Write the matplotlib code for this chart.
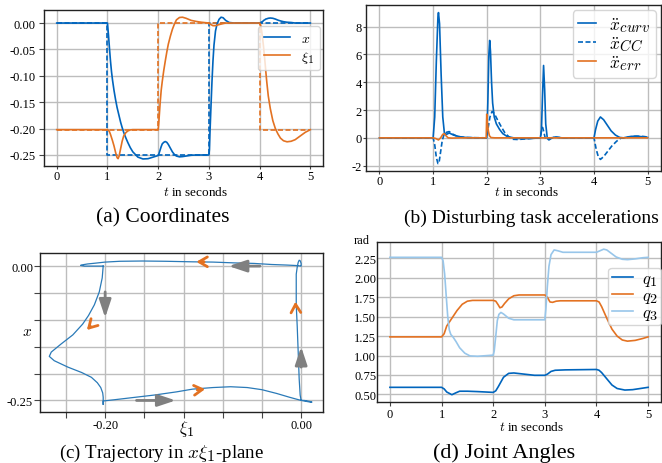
import matplotlib.pyplot as plt
import matplotlib._mathtext as mathtext_internals
from matplotlib.ticker import FixedLocator

# the paper's subscripts are nearly full size
mathtext_internals.SHRINK_FACTOR = 0.85

plt.rcParams['font.family'] = ['Liberation Serif', 'DejaVu Serif']
plt.rcParams['mathtext.fontset'] = 'cm'
plt.rcParams['axes.unicode_minus'] = False
plt.rcParams['font.size'] = 9

blue = '#0065bd'
orange = '#e37222'
lightblue = '#98c6ea'
gray = '#808080'

# (a) and (c): coordinates over time
t = [0.00, 1.00, 1.02, 1.04, 1.06, 1.08, 1.10, 1.13, 1.16, 1.19, 1.21, 1.23, 1.26, 1.29,
     1.32, 1.36, 1.40, 1.45, 1.50, 1.60, 1.70, 1.80, 1.90, 2.00, 2.01, 2.02, 2.04, 2.06,
     2.08, 2.11, 2.14, 2.17, 2.20, 2.24, 2.28, 2.32, 2.36, 2.42, 2.48, 2.55, 2.65, 2.75,
     2.85, 3.00, 3.01, 3.02, 3.04, 3.06, 3.08, 3.10, 3.13, 3.16, 3.20, 3.24, 3.28, 3.33,
     3.40, 3.50, 4.00, 4.02, 4.04, 4.06, 4.08, 4.10, 4.12, 4.14, 4.17, 4.21, 4.26, 4.31,
     4.36, 4.41, 4.47, 4.54, 4.62, 4.70, 4.80, 4.90, 5.00]
x = [0.000, 0.000, -0.022, -0.048, -0.072, -0.092, -0.108, -0.128, -0.145, -0.160, -0.168,
     -0.176, -0.188, -0.198, -0.207, -0.217, -0.226, -0.236, -0.244, -0.254, -0.2575,
     -0.257, -0.254, -0.251, -0.249, -0.246, -0.240, -0.234, -0.229, -0.226, -0.2245,
     -0.226, -0.230, -0.237, -0.244, -0.249, -0.252, -0.2535, -0.253, -0.252, -0.2505,
     -0.250, -0.250, -0.250, -0.240, -0.210, -0.160, -0.112, -0.072, -0.042, -0.015,
     -0.002, 0.007, 0.011, 0.010, 0.005, 0.001, 0.000, 0.000, 0.001, 0.002, 0.003, 0.005,
     0.006, 0.0075, 0.008, 0.009, 0.0095, 0.009, 0.0075, 0.0055, 0.004, 0.0025, 0.0015,
     0.001, 0.000, 0.000, 0.000, 0.000]
xi1 = [-0.202, -0.202, -0.203, -0.206, -0.211, -0.217, -0.223, -0.233, -0.245, -0.255,
       -0.257, -0.252, -0.238, -0.224, -0.214, -0.208, -0.2045, -0.2025, -0.202, -0.202,
       -0.202, -0.202, -0.202, -0.202, -0.192, -0.178, -0.150, -0.127, -0.111, -0.090,
       -0.072, -0.055, -0.040, -0.025, -0.012, -0.002, 0.006, 0.0105, 0.011, 0.009, 0.005,
       0.003, 0.0015, 0.000, -0.001, -0.002, -0.003, -0.004, -0.005, -0.005, -0.005,
       -0.004, -0.003, -0.002, -0.001, 0.000, 0.000, 0.000, 0.000, -0.004, -0.015, -0.030,
       -0.048, -0.068, -0.090, -0.111, -0.138, -0.162, -0.185, -0.200, -0.210, -0.218,
       -0.223, -0.225, -0.224, -0.221, -0.214, -0.207, -0.202]

t_ref = [0, 1, 2, 3, 4, 5]
x_ref = [0.0, -0.25, -0.25, 0.0, 0.0, 0.0]
xi1_ref = [-0.202, -0.202, 0.0, 0.0, -0.202, -0.202]

# (b) disturbing task accelerations
t_curv = [0, 1.00, 1.03, 1.06, 1.09, 1.10, 1.12, 1.15, 1.18, 1.21, 1.25, 1.30, 1.38, 1.50,
          1.60, 1.80, 2.00, 2.02, 2.04, 2.055, 2.07, 2.09, 2.11, 2.14, 2.18, 2.24, 2.30,
          2.38, 2.50, 2.60, 2.80, 3.00, 3.02, 3.04, 3.06, 3.08, 3.10, 3.13, 3.16, 3.20,
          3.25, 3.30, 3.40, 4.00, 4.03, 4.07, 4.12, 4.18, 4.25, 4.32, 4.40, 4.48, 4.55,
          4.65, 4.75, 4.85, 4.95, 5.00]
acc_curv = [0, 0, 1.5, 5.5, 8.7, 9.0, 8.2, 4.5, 1.5, 0.35, 0.25, 0.35, 0.2, 0.08, 0.03, 0.0,
            0.0, 2.5, 6.0, 7.0, 6.2, 4.0, 2.5, 1.5, 1.0, 0.6, 0.3, 0.1, 0.0, -0.05, -0.05,
            0.0, 0.5, 3.0, 5.2, 3.5, 1.0, -0.05, -0.15, -0.05, 0.05, 0.05, 0.0, 0.0, 0.6,
            1.2, 1.5, 1.3, 0.9, 0.5, 0.2, 0.03, 0.0, 0.08, 0.12, 0.1, 0.05, 0.03]
t_cc = [0, 1.00, 1.03, 1.06, 1.09, 1.11, 1.14, 1.17, 1.20, 1.25, 1.30, 1.35, 1.45, 1.60,
        2.00, 2.03, 2.06, 2.10, 2.14, 2.20, 2.27, 2.34, 2.42, 2.48, 2.58, 2.70, 2.85, 3.00,
        3.02, 3.04, 3.06, 3.09, 3.12, 3.15, 3.20, 3.30, 3.40, 4.00, 4.04, 4.08, 4.12, 4.18,
        4.25, 4.33, 4.42, 4.50, 4.58, 4.68, 4.80, 4.92, 5.00]
acc_cc = [0, 0, -0.5, -1.4, -1.85, -1.8, -1.0, -0.2, 0.2, 0.4, 0.45, 0.3, 0.1, 0.02, 0, 0.8,
          1.5, 1.9, 1.75, 1.3, 0.8, 0.35, 0.05, -0.1, -0.12, -0.08, -0.03, 0, 0.5, 0.75,
          0.5, 0.0, -0.1, -0.1, 0.0, 0.05, 0.0, 0, -0.8, -1.35, -1.55, -1.35, -1.0, -0.6,
          -0.25, -0.02, 0.0, 0.08, 0.12, 0.1, 0.06]
t_err = [0, 1.00, 1.05, 1.10, 1.14, 1.18, 1.21, 1.24, 1.28, 1.35, 1.50, 1.99, 2.00, 2.01,
         2.03, 2.05, 2.08, 2.15, 5.00]
acc_err = [0, 0, -0.05, -0.15, 0.0, 0.25, 0.3, 0.15, 0.0, -0.02, 0, 0, 1.7, 1.2, 0.5, 0.15,
           0.02, 0, 0]

# (d) joint angles
t_q1 = [0, 1.0, 1.05, 1.1, 1.2, 1.28, 1.35, 1.5, 1.7, 2.0, 2.05, 2.1, 2.2, 2.3, 2.4, 2.6,
        2.8, 3.0, 3.05, 3.12, 3.2, 3.4, 4.0, 4.05, 4.1, 4.2, 4.3, 4.4, 4.55, 4.7, 4.85, 5.0]
q1 = [0.59, 0.59, 0.57, 0.53, 0.495, 0.52, 0.54, 0.54, 0.535, 0.525, 0.545, 0.6, 0.72,
      0.77, 0.775, 0.76, 0.745, 0.745, 0.76, 0.795, 0.81, 0.815, 0.82, 0.81, 0.78, 0.7,
      0.62, 0.575, 0.555, 0.56, 0.575, 0.59]
t_q2 = [0, 1.0, 1.05, 1.1, 1.2, 1.3, 1.4, 1.5, 1.6, 2.0, 2.05, 2.1, 2.13, 2.17, 2.22, 2.3,
        2.4, 2.5, 3.0, 3.05, 3.1, 3.15, 3.22, 3.3, 4.0, 4.05, 4.1, 4.2, 4.3, 4.4, 4.5, 4.6,
        4.75, 4.9, 5.0]
q2 = [1.24, 1.24, 1.28, 1.38, 1.48, 1.58, 1.66, 1.70, 1.71, 1.71, 1.70, 1.65, 1.615,
      1.625, 1.67, 1.73, 1.77, 1.78, 1.78, 1.75, 1.69, 1.685, 1.70, 1.705, 1.705, 1.69,
      1.63, 1.48, 1.34, 1.25, 1.20, 1.185, 1.195, 1.22, 1.24]
t_q3 = [0, 1.0, 1.03, 1.06, 1.09, 1.12, 1.15, 1.18, 1.22, 1.28, 1.35, 1.45, 1.55, 1.7,
        2.0, 2.02, 2.05, 2.08, 2.11, 2.15, 2.2, 2.3, 2.4, 3.0, 3.02, 3.05, 3.08, 3.12,
        3.18, 3.25, 3.35, 4.0, 4.07, 4.14, 4.2, 4.28, 4.38, 4.5, 4.6, 4.75, 4.9, 5.0]
q3 = [2.265, 2.265, 2.22, 2.05, 1.77, 1.5, 1.33, 1.27, 1.24, 1.18, 1.1, 1.03, 0.995, 0.99,
      1.005, 1.06, 1.25, 1.45, 1.53, 1.555, 1.535, 1.48, 1.46, 1.46, 1.6, 1.9, 2.15, 2.3,
      2.36, 2.35, 2.33, 2.33, 2.35, 2.37, 2.36, 2.32, 2.27, 2.24, 2.235, 2.245, 2.26,
      2.265]

# (c) direction arrows: (tail, head) in data coords
gray_arrows = [((-0.042, 0.0), (-0.074, 0.0)),
               ((-0.2, -0.048), (-0.2, -0.096)),
               ((-0.168, -0.25), (-0.128, -0.25)),
               ((0.0, -0.188), (0.0, -0.150))]
orange_arrows = [((-0.099, 0.008), (-0.107, 0.008)),
                 ((-0.2150, -0.112), (-0.2187, -0.119)),
                 ((-0.0056, -0.075), (-0.0058, -0.066)),
                 ((-0.106, -0.2305), (-0.098, -0.229))]


def style(ax, xlen, xpad, ylen, ypad):
    ax.grid(True, color='#bdbdbd', lw=1.0)
    ax.set_axisbelow(True)
    for s in ax.spines.values():
        s.set_color('#222222')
        s.set_linewidth(1.0)
    ax.tick_params(labelsize=9, color='#444444')
    ax.tick_params(axis='x', length=xlen, pad=xpad)
    ax.tick_params(axis='y', length=ylen, pad=ypad)


fig = plt.figure(figsize=(6.62, 4.64), dpi=100)
ax_a = fig.add_axes([0.0665, 0.640, 0.4215, 0.336])
ax_b = fig.add_axes([0.553, 0.629, 0.4455, 0.358])
ax_c = fig.add_axes([0.0604, 0.1106, 0.4275, 0.342])
ax_d = fig.add_axes([0.5695, 0.1315, 0.429, 0.345])

# (a)
ax_a.plot(t_ref, x_ref, color=blue, lw=1.2, ls=(0, (3, 1.5)), drawstyle='steps-post')
ax_a.plot(t_ref, xi1_ref, color=orange, lw=1.2, ls=(0, (3, 1.5)), drawstyle='steps-post')
ax_a.plot(t, x, color=blue, lw=1.2, label=r'$x$')
ax_a.plot(t, xi1, color=orange, lw=1.2, label=r'$\xi_1$')
ax_a.set_yticks([0.0, -0.05, -0.10, -0.15, -0.20, -0.25])
ax_a.set_yticklabels(['0.00', '-0.05', '-0.10', '-0.15', '-0.20', '-0.25'])
ax_a.set_xticks([0, 1, 2, 3, 4, 5])
style(ax_a, 2, 0.5, 3.5, 2.5)
ax_a.legend(loc='upper right', bbox_to_anchor=(0.989, 0.897), borderaxespad=0,
            fontsize=10, handlelength=1.9, labelspacing=0.3)

# (b)
ax_b.plot(t_curv, acc_curv, color=blue, lw=1.2, label=r'$\ddot{x}_{curv}$')
ax_b.plot(t_cc, acc_cc, color=blue, lw=1.2, ls=(0, (3, 1.5)), label=r'$\ddot{x}_{CC}$')
ax_b.plot(t_err, acc_err, color=orange, lw=1.2, label=r'$\ddot{x}_{err}$')
ax_b.set_yticks([-2, 0, 2, 4, 6, 8])
ax_b.set_xticks([0, 1, 2, 3, 4, 5])
style(ax_b, 2, 0.5, 2, 1)
ax_b.legend(loc='upper right', fontsize=12.5, handlelength=1.0, labelspacing=0.0,
            borderpad=0.3, borderaxespad=0.3)

# (c)
ax_c.plot(xi1, x, color='#2a7ab8', lw=0.9)
for tail, head in gray_arrows:
    ax_c.annotate('', xy=head, xytext=tail,
                  arrowprops=dict(arrowstyle='-|>,head_length=0.9,head_width=0.3',
                                  color=gray, lw=2.0, shrinkA=0, shrinkB=0,
                                  mutation_scale=12))
for tail, head in orange_arrows:
    ax_c.annotate('', xy=head, xytext=tail,
                  arrowprops=dict(arrowstyle='->,head_length=0.6,head_width=0.35',
                                  color=orange, lw=2.0, shrinkA=0, shrinkB=0,
                                  mutation_scale=10))
ax_c.set_xlim(-0.2665, 0.0223)
ax_c.xaxis.set_major_locator(FixedLocator([-0.24, -0.20, -0.16, -0.12, -0.08, -0.04, 0.0]))
ax_c.set_xticklabels(['', '-0.20', '', '', '', '', '0.00'])
ax_c.yaxis.set_major_locator(FixedLocator([0.0, -0.05, -0.10, -0.15, -0.20, -0.25]))
ax_c.set_yticklabels(['0.00', '', '', '', '', '-0.25'])
style(ax_c, 4, 1.2, 4, 1)

# (d)
ax_d.plot(t_q1, q1, color=blue, lw=1.2, label=r'$q_1$')
ax_d.plot(t_q2, q2, color=orange, lw=1.2, label=r'$q_2$')
ax_d.plot(t_q3, q3, color=lightblue, lw=1.2, label=r'$q_3$')
ax_d.set_yticks([0.5, 0.75, 1.0, 1.25, 1.5, 1.75, 2.0, 2.25])
ax_d.set_yticklabels(['0.50', '0.75', '1.00', '1.25', '1.50', '1.75', '2.00', '2.25'])
ax_d.set_xticks([0, 1, 2, 3, 4, 5])
style(ax_d, 3, 1.2, 0, 0.5)
ax_d.legend(loc='upper right', bbox_to_anchor=(1.0, 0.84), borderaxespad=0,
            fontsize=12, handlelength=1.3, labelspacing=0.0, borderpad=0.2,
            handletextpad=0.5)

# labels and captions (pixel positions converted to figure fractions)
W, H = 662.0, 464.0


def ftext(px, py, s, **kw):
    fig.text(px / W, 1 - py / H, s, ha='center', va='center', **kw)


ftext(196, 193, r'$t$ in seconds', fontsize=9.5)
ftext(527, 193, r'$t$ in seconds', fontsize=9.5)
ftext(532, 428, r'$t$ in seconds', fontsize=9.5)
ftext(187, 429, r'$\xi_1$', fontsize=12)
ftext(27, 333, r'$x$', fontsize=11)
ftext(362, 241, 'rad', fontsize=9)

ftext(163, 218, '(a) Coordinates', fontsize=15.5)
ftext(531, 218, '(b) Disturbing task accelerations', fontsize=14)
ftext(162, 453, r'(c) Trajectory in $x\xi_1$-plane', fontsize=13.6)
ftext(504, 453, '(d) Joint Angles', fontsize=16)

plt.savefig('out.png', dpi=100)
